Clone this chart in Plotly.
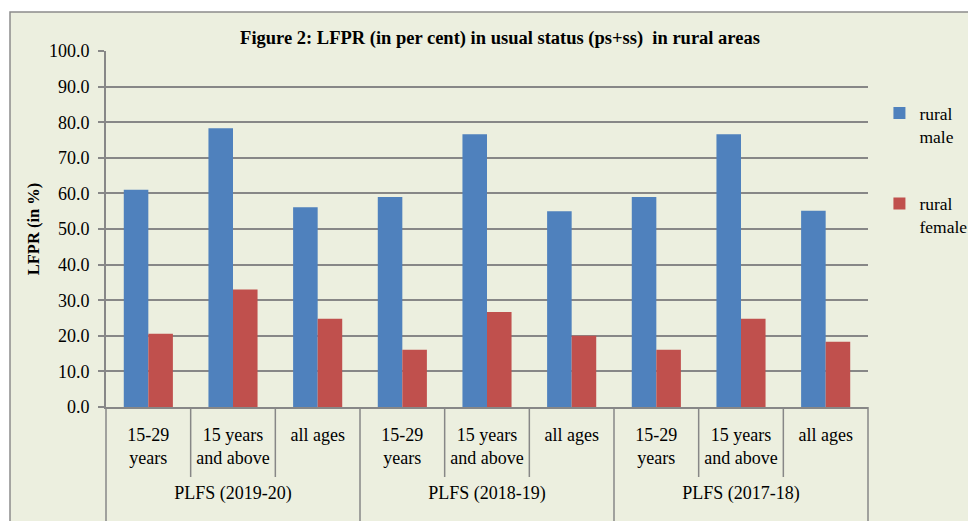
import plotly.graph_objects as go

# ---- data ----
periods = ["PLFS (2019-20)", "PLFS (2018-19)", "PLFS (2017-18)"]
pad_line = "<br>\u00a0"
age_groups = ["15-29<br>years" + pad_line, "15 years<br>and above" + pad_line, "all ages"]
rural_male = [61.0, 78.3, 56.1, 59.0, 76.6, 55.0, 59.0, 76.6, 55.1]
rural_female = [20.6, 33.0, 24.8, 16.1, 26.7, 20.0, 16.1, 24.8, 18.3]
y_ticks = [0, 10, 20, 30, 40, 50, 60, 70, 80, 90, 100]

x_outer = [p for p in periods for _ in age_groups]
x_inner = [a for _ in periods for a in age_groups]

# page body has an 8px margin, so the figure is laid out 8px up/left
OFF = 8
W, H = 976 - OFF, 521 - OFF
ML, MT = 106 - OFF, 51 - OFF
PW, PH = 762, 356
MR, MB = W - ML - PW, H - MT - PH

BG = "#ECEFDF"
GRID = "#878787"
FONT = "Liberation Serif"

fig = go.Figure()
fig.add_trace(go.Bar(x=[x_outer, x_inner], y=rural_male, name="rural<br>male",
                     marker=dict(color="#4F81BD", line=dict(width=0)), legendgroup="m"))
fig.add_trace(go.Bar(x=[x_outer, x_inner], y=rural_female, name="rural<br>female",
                     marker=dict(color="#C0504D", line=dict(width=0)), legendgroup="f"))

shapes = []
# outer chart-area rectangle
shapes.append(dict(type="rect", xref="paper", yref="paper",
                   x0=(10 - OFF - ML) / PW, x1=(W + 5 - ML) / PW,
                   y0=(MT + PH - (H + 5)) / PH, y1=(MT + PH - (12 - OFF)) / PH,
                   fillcolor=BG, line=dict(color="#8C8C8C", width=1.5), layer="below"))
n = len(x_inner)
for k in range(n + 1):
    if k % len(age_groups) == 0:
        y0 = -(H + 5 - MT - PH) / PH
    else:
        y0 = -70 / PH
    shapes.append(dict(type="line", xref="x domain", yref="y domain",
                       x0=k / n, x1=k / n, y0=y0, y1=0,
                       line=dict(color=GRID, width=1.5)))

fig.update_layout(
    width=W, height=H,
    margin=dict(l=ML, r=MR, t=MT, b=MB, autoexpand=False),
    paper_bgcolor="white", plot_bgcolor=BG,
    barmode="group", bargap=0.42, bargroupgap=0,
    font=dict(family=FONT, size=18, color="black"),
    title=dict(text="<b>Figure 2: LFPR (in per cent) in usual status (ps+ss)  in rural areas</b>",
               x=(500 - OFF) / W, xanchor="center", y=1 - (38 - OFF) / H, yanchor="middle",
               font=dict(family=FONT, size=18.5, color="black")),
    shapes=shapes,
    legend=dict(x=1.015, y=0.876, xanchor="left", yanchor="top", valign="top",
                tracegroupgap=42, bgcolor="rgba(0,0,0,0)",
                font=dict(family=FONT, size=17.5, color="black")),
    showlegend=True,
)
fig.update_xaxes(type="multicategory", showgrid=False, showline=True, linecolor=GRID,
                 linewidth=2, ticks="", showdividers=False, automargin=False,
                 ticklabelstandoff=10,
                 tickfont=dict(family=FONT, size=18, color="black"))
fig.update_yaxes(range=[0, 100], tickvals=y_ticks, tickformat=".1f",
                 showgrid=True, gridcolor=GRID, gridwidth=1.5,
                 showline=True, linecolor=GRID, linewidth=2,
                 ticks="outside", ticklen=6, tickcolor=GRID, tickwidth=1.5,
                 ticklabelstandoff=5, automargin=False,
                 tickfont=dict(family=FONT, size=18, color="black"),
                 zeroline=False,
                 title=dict(text="<b>LFPR (in %)</b>", standoff=5,
                            font=dict(family=FONT, size=16.5, color="black")))

fig.write_html("out.html")
